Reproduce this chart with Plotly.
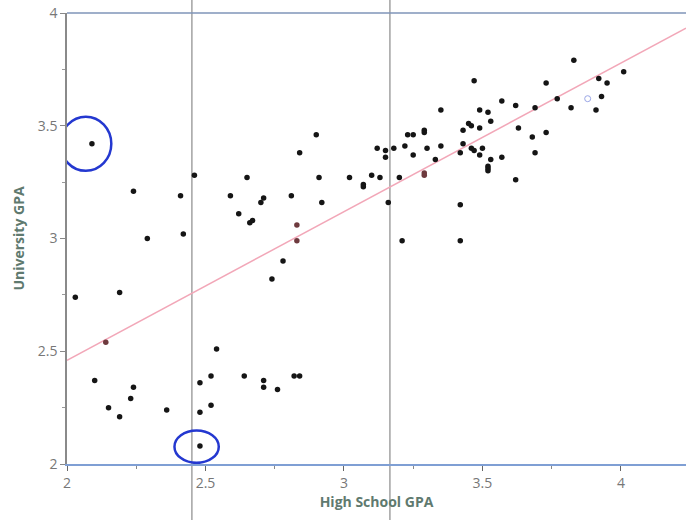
import plotly.graph_objects as go

# --- data ---
hs_gpa = [2.09, 2.24, 2.41, 2.46, 2.29, 2.42, 2.65, 2.59, 2.71, 2.70,
          2.81, 2.92, 2.91, 2.84, 2.90, 2.62, 2.66, 2.67, 2.78, 2.74,
          2.03, 2.19, 2.54, 2.10, 2.24, 2.23, 2.15, 2.19, 2.36, 2.48,
          2.52, 2.48, 2.52, 2.48, 2.64, 2.71, 2.71, 2.76, 2.82, 2.84,
          3.02, 3.07, 3.07, 3.10, 3.13, 3.12, 3.15, 3.15, 3.18, 3.20,
          3.16, 3.21, 3.42, 3.42, 3.22, 3.23, 3.25, 3.29, 3.29, 3.25,
          3.30, 3.33, 3.35, 3.35, 3.43, 3.43, 3.42, 3.45, 3.46, 3.49,
          3.46, 3.47, 3.50, 3.49, 3.53, 3.52, 3.52, 3.52, 3.57, 3.62,
          3.53, 3.49, 3.52, 3.63, 3.47, 3.57, 3.62, 3.69, 3.68, 3.69,
          3.73, 3.73, 3.77, 3.82, 3.83, 3.91, 3.92, 3.95, 3.93, 4.01]
uni_gpa = [3.42, 3.21, 3.19, 3.28, 3.00, 3.02, 3.27, 3.19, 3.18, 3.16,
           3.19, 3.16, 3.27, 3.38, 3.46, 3.11, 3.07, 3.08, 2.90, 2.82,
           2.74, 2.76, 2.51, 2.37, 2.34, 2.29, 2.25, 2.21, 2.24, 2.36,
           2.39, 2.23, 2.26, 2.08, 2.39, 2.37, 2.34, 2.33, 2.39, 2.39,
           3.27, 3.23, 3.24, 3.28, 3.27, 3.40, 3.39, 3.36, 3.40, 3.27,
           3.16, 2.99, 2.99, 3.15, 3.41, 3.46, 3.46, 3.48, 3.47, 3.37,
           3.40, 3.35, 3.41, 3.57, 3.48, 3.42, 3.38, 3.51, 3.50, 3.49,
           3.40, 3.39, 3.40, 3.37, 3.35, 3.32, 3.31, 3.30, 3.36, 3.26,
           3.52, 3.57, 3.56, 3.49, 3.70, 3.61, 3.59, 3.58, 3.45, 3.38,
           3.69, 3.47, 3.62, 3.58, 3.79, 3.57, 3.71, 3.69, 3.63, 3.74]

# points printed in a dark red shade
red_hs = [2.83, 2.83, 2.14, 3.29, 3.29]
red_uni = [3.06, 2.99, 2.54, 3.29, 3.28]

# the one hollow (selected) point
hollow_hs = [3.88]
hollow_uni = [3.62]

# points circled by hand in blue ink
circled_hs = [2.09, 2.48]
circled_uni = [3.42, 2.08]

# fitted line
fit_intercept_at_2 = 2.46
fit_slope = 0.659
x_range = [2.0, 4.235]
y_range = [2.0, 4.0]

x_ticks = [2, 2.5, 3, 3.5, 4]
x_tick_text = ["2", "2.5", "3", "3.5", "4"]
y_ticks = [2, 2.5, 3, 3.5, 4]
y_tick_text = ["2", "2.5", "3", "3.5", "4"]

fit_x = x_range
fit_y = [fit_intercept_at_2 + fit_slope * (v - 2.0) for v in fit_x]

fig = go.Figure()

fig.add_trace(go.Scatter(x=fit_x, y=fit_y, mode="lines",
                         line=dict(color="#f2a7b8", width=1.5),
                         hoverinfo="skip", showlegend=False))
fig.add_trace(go.Scatter(x=hs_gpa, y=uni_gpa, mode="markers",
                         marker=dict(color="#151515", size=5.5),
                         showlegend=False))
fig.add_trace(go.Scatter(x=red_hs, y=red_uni, mode="markers",
                         marker=dict(color="#6e3a3e", size=5.5),
                         showlegend=False))
fig.add_trace(go.Scatter(x=hollow_hs, y=hollow_uni, mode="markers",
                         marker=dict(color="rgba(0,0,0,0)", size=6,
                                     line=dict(color="#9aa6e6", width=1)),
                         showlegend=False))

shapes = []
# scanner / fold lines of the photographed page
for xv in [2.451, 3.166]:
    shapes.append(dict(type="line", xref="x", yref="paper", x0=xv, x1=xv,
                       y0=-0.14, y1=1.03,
                       line=dict(color="#8a8a8a", width=1.2), layer="below"))
# top border line
shapes.append(dict(type="line", xref="paper", yref="paper", x0=0, x1=1,
                   y0=1.0, y1=1.0, line=dict(color="#7f95b8", width=1.5)))
# hand-drawn blue circles (offset a little, as drawn)
dx = [-0.022, -0.012]
dy = [0.0, -0.003]
rx = [0.092, 0.08]
ry = [0.12, 0.072]
for cx, cy, ox, oy, a, b in zip(circled_hs, circled_uni, dx, dy, rx, ry):
    shapes.append(dict(type="circle", xref="x", yref="y",
                       x0=cx + ox - a, x1=cx + ox + a,
                       y0=cy + oy - b, y1=cy + oy + b,
                       line=dict(color="#2438d0", width=2.5)))

font_fam = "Open Sans, Lato, sans-serif"
fig.update_layout(
    width=686, height=520,
    margin=dict(l=67, r=0, t=13, b=56),
    paper_bgcolor="white", plot_bgcolor="white",
    shapes=shapes,
    xaxis=dict(range=x_range, tickvals=x_ticks, ticktext=x_tick_text,
               showgrid=False, zeroline=False, showline=True,
               linecolor="#7f9fd4", linewidth=1.5,
               ticks="outside", ticklen=5, tickcolor="#666",
               tickfont=dict(family=font_fam, size=14, color="#777777"),
               minor=dict(dtick=0.25, ticks="outside", ticklen=3, tickcolor="#888"),
               title=dict(text="<b>High School GPA</b>", standoff=6,
                          font=dict(family=font_fam, size=14, color="#5f7a6f"))),
    yaxis=dict(range=y_range, tickvals=y_ticks, ticktext=y_tick_text,
               showgrid=False, zeroline=False, showline=True,
               linecolor="#8a8a8a", linewidth=1.5,
               ticks="outside", ticklen=5, tickcolor="#888",
               tickfont=dict(family=font_fam, size=14, color="#777777"),
               minor=dict(dtick=0.25, ticks="outside", ticklen=3, tickcolor="#999"),
               title=dict(text="<b>University GPA</b>", standoff=10,
                          font=dict(family=font_fam, size=14, color="#5f7a6f"))),
)

fig.write_html("out.html")
